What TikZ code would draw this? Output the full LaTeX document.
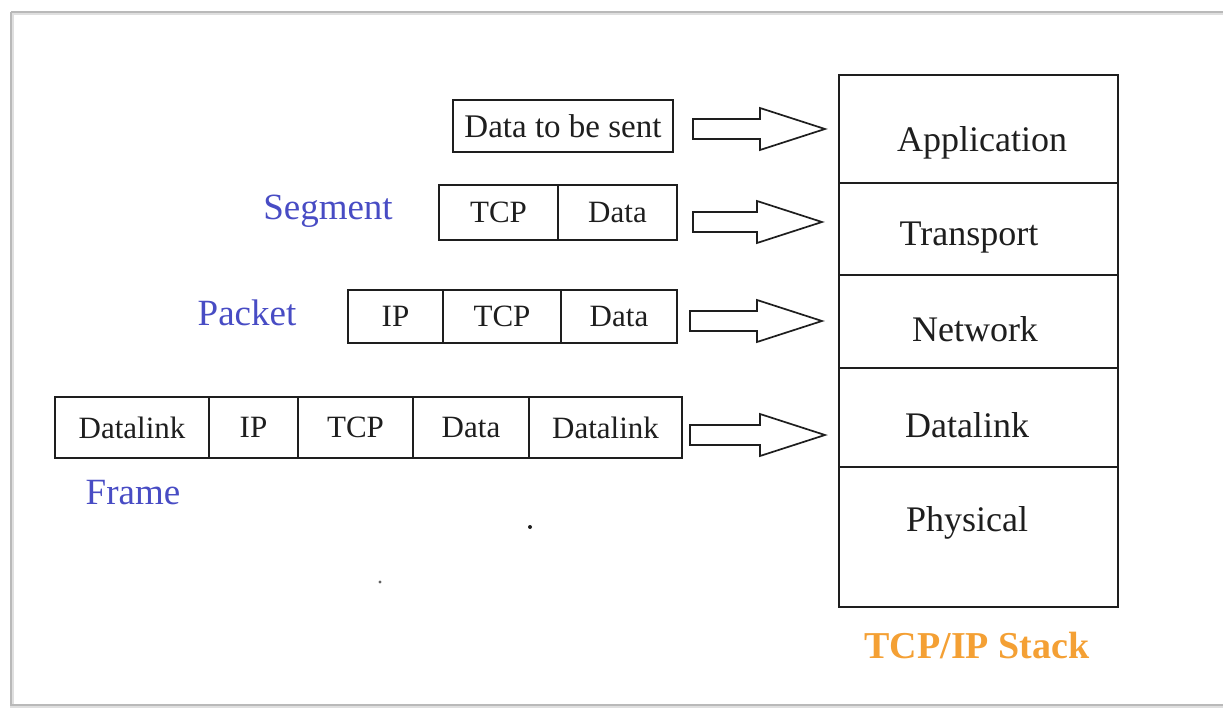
\documentclass[tikz,border=0pt]{standalone}
\usepackage{fontspec}
\setmainfont{Liberation Serif}
\definecolor{lblblue}{RGB}{72,76,196}
\definecolor{stackorange}{RGB}{244,160,52}
\definecolor{ink}{RGB}{30,30,30}
\tikzset{
  cell/.style={draw=ink, line width=1.6pt, inner sep=0pt, font=\fontsize{31}{31}\selectfont, text=ink},
  layer/.style={draw=ink, line width=1.6pt, inner sep=0pt, minimum width=279pt},
  layertext/.style={font=\fontsize{36}{36}\selectfont, text=ink, inner sep=0pt},
  pdulabel/.style={font=\fontsize{37}{37}\selectfont, text=lblblue, inner sep=0pt},
  blockarrow/.style={draw=ink, line width=1.7pt, fill=white, line join=miter},
}
% hollow block arrow: tail x, tip x, centre y
\newcommand{\blockarr}[3]{%
  \draw[blockarrow] (#1,#3-10) -- (#2-65,#3-10) -- (#2-65,#3-21) -- (#2,#3)
    -- (#2-65,#3+21) -- (#2-65,#3+10) -- (#1,#3+10) -- cycle;}
\begin{document}
\begin{tikzpicture}[x=1pt, y=-1pt]
\useasboundingbox (0,0) rectangle (1223,708);
% page frame
\draw[gray!25, line width=4pt] (12,13) -- (1240,13);
\draw[gray!25, line width=4pt] (12,13) -- (12,706) -- (1240,706);
\draw[gray!55, line width=1.2pt] (11,12) -- (1240,12);
\draw[gray!55, line width=1.2pt] (11,12) -- (11,705) -- (1240,705);

% TCP/IP stack layers
\node[layer, minimum height=108pt] (app) at (978.5,129) {};
\node[layer, minimum height=92pt]  (tra) at (978.5,229) {};
\node[layer, minimum height=93pt]  (net) at (978.5,321.5) {};
\node[layer, minimum height=99pt]  (dl)  at (978.5,417.5) {};
\node[layer, minimum height=140pt] (phy) at (978.5,537) {};
\node[layertext] at (982,143) {Application};
\node[layertext] at (969,238) {Transport};
\node[layertext] at (975,329) {Network};
\node[layertext] at (967,425) {Datalink};
\node[layertext] at (967,523) {Physical};
\node[font=\bfseries\fontsize{38}{38}\selectfont, text=stackorange, inner sep=0pt] (stack) at (977,645) {TCP/IP Stack};

% application data
\node[cell, minimum width=220pt, minimum height=52pt, font=\fontsize{33}{33}\selectfont] (d0) at (563,126) {Data to be sent};

% segment
\node[cell, minimum width=119pt, minimum height=55pt] (s1) at (498.5,212.5) {TCP};
\node[cell, minimum width=119pt, minimum height=55pt] (s2) at (617.5,212.5) {Data};
\node[pdulabel] (seg) at (328,211) {Segment};

% packet
\node[cell, minimum width=95pt,  minimum height=53pt] (p1) at (395.5,316.5) {IP};
\node[cell, minimum width=118pt, minimum height=53pt] (p2) at (502,316.5) {TCP};
\node[cell, minimum width=116pt, minimum height=53pt] (p3) at (619,316.5) {Data};
\node[pdulabel] (pkt) at (247,313) {Packet};

% frame
\node[cell, minimum width=154pt, minimum height=61pt] (f1) at (132,427.5) {Datalink};
\node[cell, minimum width=89pt,  minimum height=61pt] (f2) at (253.5,427.5) {IP};
\node[cell, minimum width=115pt, minimum height=61pt] (f3) at (355.5,427.5) {TCP};
\node[cell, minimum width=116pt, minimum height=61pt] (f4) at (471,427.5) {Data};
\node[cell, minimum width=153pt, minimum height=61pt] (f5) at (605.5,427.5) {Datalink};
\node[pdulabel] (frm) at (133,493) {Frame};

% encapsulation arrows into the stack
\blockarr{693}{825}{129}
\blockarr{693}{822}{222}
\blockarr{690}{822}{321}
\blockarr{690}{825}{435}

% specks
\fill[ink] (530,527) circle (2pt);
\fill[ink!70] (380,582) circle (1.7pt);
\end{tikzpicture}
\end{document}
